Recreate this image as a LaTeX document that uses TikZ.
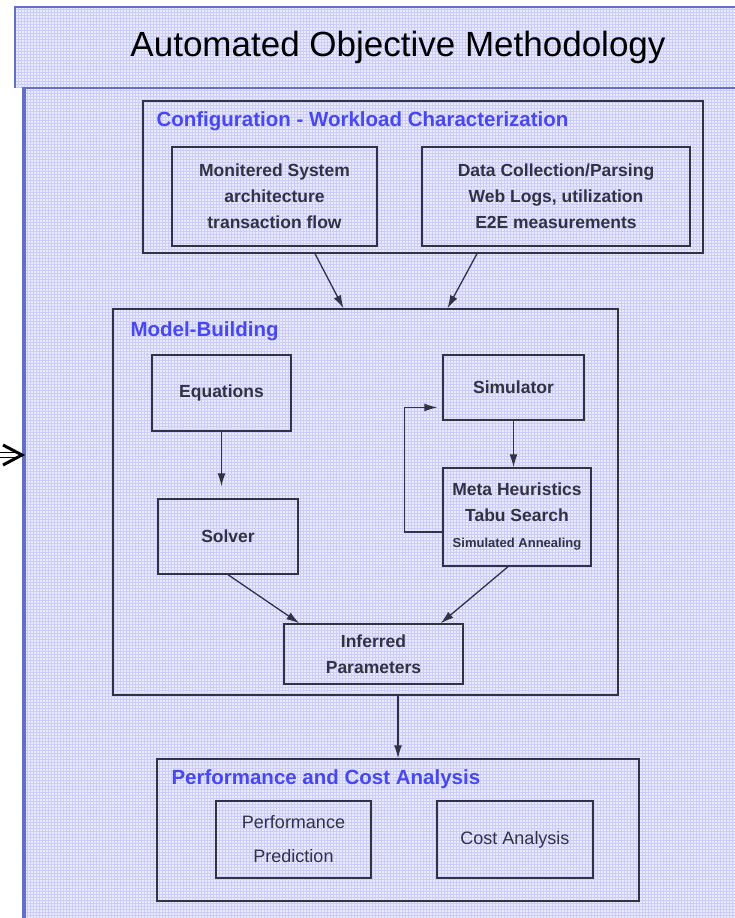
\documentclass[tikz,border=0pt]{standalone}
\usepackage{fontspec}
\setmainfont{Liberation Sans}
\usetikzlibrary{arrows.meta}
\usetikzlibrary{calc}
\definecolor{panelbg}{RGB}{234,234,254}
\definecolor{gridline}{RGB}{204,204,250}
\definecolor{panelline}{RGB}{100,112,200}
\definecolor{headblue}{RGB}{72,72,240}
\definecolor{boxline}{RGB}{50,50,66}

\begin{document}
\begin{tikzpicture}[x=1pt,y=1pt,
	frame/.style={draw=boxline,line width=1.4pt,inner sep=0pt},
	box/.style={frame,align=center,text=boxline,font=\fontsize{17.5}{26}\selectfont\bfseries},
	plainbox/.style={frame,align=center,text=boxline,font=\fontsize{18}{34}\selectfont},
	head/.style={anchor=north west,inner sep=0pt,text=headblue,font=\fontsize{20.5}{24}\selectfont\bfseries},
	arr/.style={draw=boxline,line width=1.3pt,-{Latex[length=13pt,width=8pt]}}]
\useasboundingbox (0,0) rectangle (735,918);

\fill[panelbg] (15,911) rectangle (735,830);
\fill[panelbg] (22,830) rectangle (735,0);
\begin{scope}
\clip (15,911) -- (735,911) -- (735,0) -- (22,0) -- (22,830) -- (15,830) -- cycle;
\draw[gridline,line width=0.8pt,step=3pt] (15,0) grid (735,911);
\end{scope}
\draw[panelline,line width=2pt] (735,911) -- (15,911) -- (15,830);
\draw[panelline,line width=2pt] (735,830) -- (22,830);
\draw[panelline,line width=4.5pt] (24,830) -- (24,0);

\node (title) at (398,871) {\fontsize{35}{40}\selectfont Automated Objective Methodology};

\coordinate (entry) at (22,463);
\draw[line width=1.4pt,double,double distance=3.5pt] (0,463) -- ($(entry)+(-3,0)$);
\draw[line width=3pt,line join=miter] ($(entry)+(-19,10)$) -- (entry) -- ($(entry)+(-19,-10)$);

\node[frame,minimum width=560pt,minimum height=152pt] (config) at (423,741) {};
\node[head] (confighead) at ([xshift=14pt,yshift=-11pt]config.north west) {Configuration - Workload Characterization};
\node[box,minimum width=205pt,minimum height=99pt] (monitor) at (274.5,721.5) {Monitered System\\architecture\\transaction flow};
\node[box,minimum width=268pt,minimum height=99pt] (datacoll) at (556,721.5) {Data Collection/Parsing\\Web Logs, utilization\\E2E measurements};

\node[frame,minimum width=505pt,minimum height=386pt] (model) at (365.5,416) {};
\node[head] (modelhead) at ([xshift=18pt,yshift=-13pt]model.north west) {Model-Building};
\node[box,minimum width=139pt,minimum height=76pt] (equations) at (221.5,525) {Equations};
\node[box,minimum width=140pt,minimum height=75pt] (solver) at (228,381.5) {Solver};
\node[box,minimum width=141pt,minimum height=65pt] (simulator) at (513.5,530.5) {Simulator};
\node[box,minimum width=148pt,minimum height=98pt] (meta) at (517,401) {Meta Heuristics\\Tabu Search\\{\fontsize{13}{26}\selectfont Simulated Annealing}};
\node[box,minimum width=179pt,minimum height=60pt] (inferred) at (373.5,264) {Inferred\\Parameters};

\node[frame,minimum width=482pt,minimum height=142pt] (perf) at (398,88) {};
\node[head] (perfhead) at ([xshift=15pt,yshift=-11pt]perf.north west) {Performance and Cost Analysis};
\node[plainbox,minimum width=155pt,minimum height=77pt] (predict) at (293.5,78.5) {Performance\\Prediction};
\node[plainbox,minimum width=156pt,minimum height=77pt] (cost) at (515,78.5) {Cost Analysis};

\draw[arr] ([xshift=-108pt]config.south) -- ([xshift=-22pt]model.north);
\draw[arr] ([xshift=54pt]config.south) -- ([xshift=82pt]model.north);
\draw[arr,shorten >=12pt] (equations.south) -- (equations.south |- solver.north);
\draw[arr] (simulator.south) -- (simulator.south |- meta.north);
\draw[arr,shorten >=5pt] ([yshift=-15pt]meta.west) -- ++(-38pt,0) |- ([yshift=-20pt]simulator.west);
\draw[arr] (solver.south) -- ([xshift=16pt]inferred.north west);
\draw[arr] ([xshift=-9pt]meta.south) -- ([xshift=-23pt]inferred.north east);
\draw[arr] (perf.north |- model.south) -- (perf.north);

\end{tikzpicture}
\end{document}
